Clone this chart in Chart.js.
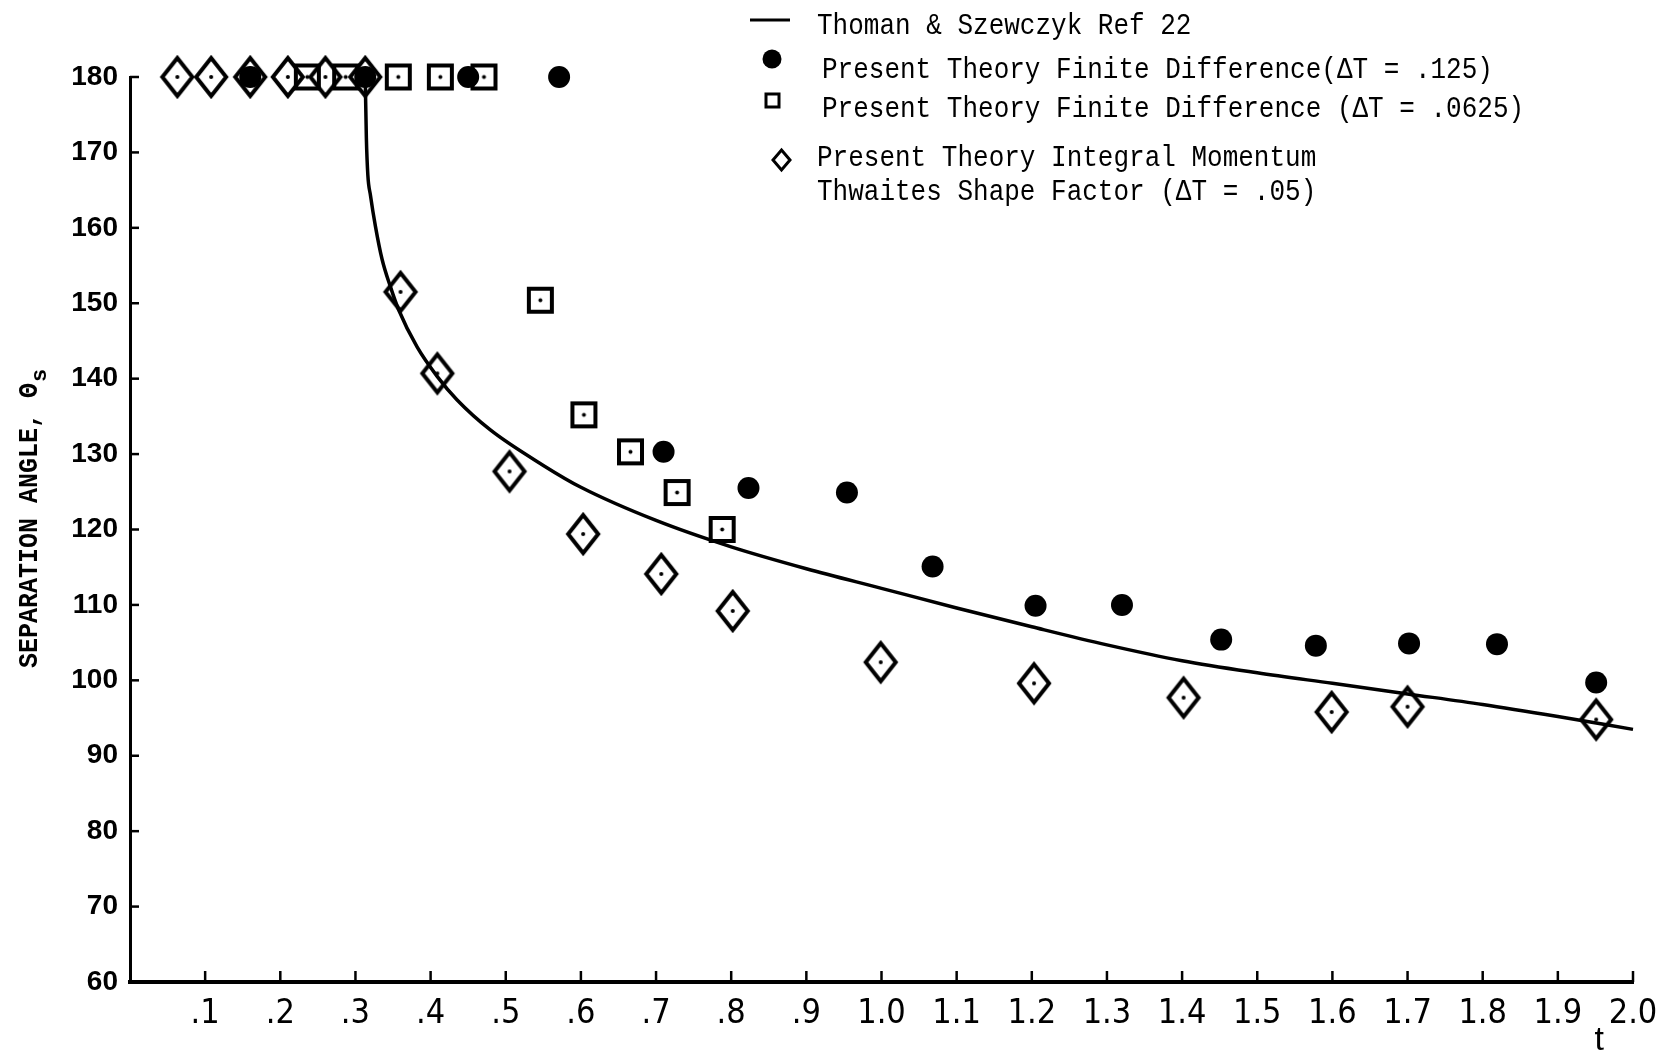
<!DOCTYPE html>
<html>
<head>
<meta charset="utf-8">
<script src="https://cdn.jsdelivr.net/npm/chart.js@4.4.1/dist/chart.umd.min.js"></script>
<style>
  html, body { margin: 0; padding: 0; background: #fff; }
</style>
</head>
<body>
<canvas id="chart" width="1664" height="1055"></canvas>
<script>
// Thoman & Szewczyk Ref 22 (solid curve)
const refT     = [0.313, 0.3145, 0.3165, 0.320, 0.3266, 0.3355, 0.3465, 0.3576, 0.382, 0.4087, 0.435, 0.4795, 0.55, 0.6, 0.7, 0.8, 0.9, 1.0, 1.1, 1.2, 1.3, 1.4, 1.5, 1.6, 1.7, 1.8, 1.9, 2.0];
const refTheta = [180, 172, 167, 164.3, 160.2, 155.8, 152.2, 149.1, 144.2, 140.3, 137.2, 133.2, 128.5, 125.6, 121.2, 117.7, 114.8, 112.2, 109.6, 107.1, 104.7, 102.6, 101.0, 99.6, 98.2, 96.8, 95.2, 93.5];

// finite difference, dT = .125 (filled circles)
const fd125T     = [0.160, 0.313, 0.450, 0.571, 0.71, 0.823, 0.954, 1.068, 1.205, 1.32, 1.452, 1.578, 1.702, 1.819, 1.951];
const fd125Theta = [180, 180, 180, 180, 130.3, 125.5, 124.9, 115.1, 109.9, 110.0, 105.4, 104.6, 104.9, 104.8, 99.7];

// finite difference, dT = .0625 (squares)
const fd0625T     = [0.236, 0.287, 0.357, 0.413, 0.471, 0.546, 0.604, 0.666, 0.728, 0.788];
const fd0625Theta = [180, 180, 180, 180, 180, 150.4, 135.2, 130.3, 124.9, 120.0];

// integral momentum, Thwaites shape factor, dT = .05 (diamonds)
const imT     = [0.063, 0.108, 0.160, 0.210, 0.260, 0.313, 0.36, 0.409, 0.505, 0.603, 0.707, 0.802, 0.999, 1.203, 1.402, 1.599, 1.70, 1.951];
const imTheta = [180, 180, 180, 180, 180, 180, 151.5, 140.7, 127.7, 119.4, 114.1, 109.2, 102.4, 99.6, 97.7, 95.8, 96.5, 94.8];

const xTickLabels = ['', '.1', '.2', '.3', '.4', '.5', '.6', '.7', '.8', '.9', '1.0',
                     '1.1', '1.2', '1.3', '1.4', '1.5', '1.6', '1.7', '1.8', '1.9', '2.0'];
const yTickValues = [60, 70, 80, 90, 100, 110, 120, 130, 140, 150, 160, 170, 180];

const legendLabels = [
  'Thoman & Szewczyk Ref 22',
  'Present Theory Finite Difference(\u0394T = .125)',
  'Present Theory Finite Difference (\u0394T = .0625)',
  'Present Theory Integral Momentum',
  'Thwaites Shape Factor (\u0394T = .05)'
];

const pts = (xs, ys) => xs.map((x, i) => ({ x: x, y: ys[i] }));

// marker images
function diamondMarker(w, h, lw, dot) {
  const c = document.createElement('canvas');
  c.width = w + lw * 2; c.height = h + lw * 2;
  const g = c.getContext('2d');
  const cx = c.width / 2, cy = c.height / 2;
  g.strokeStyle = '#000'; g.lineWidth = lw; g.lineJoin = 'miter';
  g.beginPath();
  g.moveTo(cx, cy - h / 2); g.lineTo(cx + w / 2, cy); g.lineTo(cx, cy + h / 2); g.lineTo(cx - w / 2, cy);
  g.closePath(); g.stroke();
  if (dot) { g.fillStyle = '#000'; g.beginPath(); g.arc(cx, cy, 2, 0, Math.PI * 2); g.fill(); }
  return c;
}
function squareMarker(s, lw, dot) {
  const c = document.createElement('canvas');
  c.width = s + lw * 2; c.height = s + lw * 2;
  const g = c.getContext('2d');
  g.strokeStyle = '#000'; g.lineWidth = lw;
  g.strokeRect(lw, lw, s, s);
  if (dot) { g.fillStyle = '#000'; g.beginPath(); g.arc(c.width / 2, c.height / 2, 2, 0, Math.PI * 2); g.fill(); }
  return c;
}

const diamondImg = diamondMarker(30, 38, 4, true);
const squareImg = squareMarker(23, 4, true);

// draws text stretched vertically
function tallText(ctx, str, x, y, sy) {
  ctx.save();
  ctx.translate(x, y);
  ctx.scale(1, sy);
  ctx.fillText(str, 0, 0);
  ctx.restore();
}

const decor = {
  id: 'decor',
  afterDraw(chart) {
    const ctx = chart.ctx;
    const xs = chart.scales.x, ys = chart.scales.y;
    const area = chart.chartArea;
    ctx.save();
    ctx.strokeStyle = '#000';
    ctx.lineWidth = 2.5;
    // inward tick marks
    ys.ticks.forEach(t => {
      if (t.value <= ys.min) return;
      const y = ys.getPixelForValue(t.value);
      ctx.beginPath(); ctx.moveTo(area.left, y); ctx.lineTo(area.left + 9, y); ctx.stroke();
    });
    xs.ticks.forEach(t => {
      if (t.value <= xs.min) return;
      const x = xs.getPixelForValue(t.value);
      ctx.beginPath(); ctx.moveTo(x, area.bottom); ctx.lineTo(x, area.bottom - 11); ctx.stroke();
    });

    // y axis title, rotated
    ctx.fillStyle = '#000';
    ctx.font = 'bold 25px "Liberation Mono"';
    ctx.textBaseline = 'alphabetic';
    ctx.textAlign = 'left';
    ctx.save();
    ctx.translate(37, 668);
    ctx.rotate(-Math.PI / 2);
    const main = 'SEPARATION ANGLE, \u0398';
    tallText(ctx, main, 0, 0, 1.1);
    const w = ctx.measureText(main).width;
    ctx.font = 'bold 22px "Liberation Mono"';
    ctx.fillText('s', w + 1, 9);
    ctx.restore();

    // t label
    ctx.font = '34px "Liberation Sans", sans-serif';
    ctx.textAlign = 'center';
    ctx.fillText('t', xs.getPixelForValue(1.955), 1050);

    // legend
    ctx.font = '26px "Liberation Mono"';
    ctx.textAlign = 'left';
    ctx.lineWidth = 3;
    ctx.beginPath(); ctx.moveTo(750, 20); ctx.lineTo(790, 20); ctx.stroke();
    tallText(ctx, legendLabels[0], 817, 34, 1.15);
    ctx.beginPath(); ctx.arc(772, 59, 9.5, 0, Math.PI * 2); ctx.fill();
    tallText(ctx, legendLabels[1], 822, 78, 1.15);
    ctx.strokeRect(766, 94, 13, 13);
    tallText(ctx, legendLabels[2], 822, 117, 1.15);
    ctx.drawImage(diamondMarker(17, 20, 3, false), 770, 147);
    tallText(ctx, legendLabels[3], 817, 166, 1.15);
    tallText(ctx, legendLabels[4], 817, 200, 1.15);
    ctx.restore();
  }
};

new Chart(document.getElementById('chart'), {
  type: 'scatter',
  data: {
    datasets: [
      {
        label: legendLabels[1],
        data: pts(fd125T, fd125Theta),
        pointStyle: 'circle',
        pointRadius: 11,
        pointHoverRadius: 11,
        backgroundColor: '#000',
        borderColor: '#000',
        borderWidth: 0,
        clip: false
      },
      {
        label: legendLabels[2],
        data: pts(fd0625T, fd0625Theta),
        pointStyle: squareImg,
        clip: false
      },
      {
        label: legendLabels[3],
        data: pts(imT, imTheta),
        pointStyle: diamondImg,
        clip: false
      },
      {
        label: legendLabels[0],
        data: pts(refT, refTheta),
        showLine: true,
        borderColor: '#000',
        borderWidth: 3.5,
        pointRadius: 0,
        cubicInterpolationMode: 'monotone',
        clip: false
      }
    ]
  },
  options: {
    responsive: false,
    animation: false,
    layout: { padding: { top: 77, right: 31, left: 0, bottom: 0 } },
    plugins: { legend: { display: false }, tooltip: { enabled: false } },
    scales: {
      x: {
        type: 'linear',
        min: 0,
        max: 2.0,
        afterFit: s => { s.height = 73; s.paddingLeft = 0; s.paddingRight = 0; },
        afterBuildTicks: s => { s.ticks = xTickLabels.map((_, i) => ({ value: i / 10 })); },
        grid: { display: false, drawTicks: false },
        border: { display: true, color: '#000', width: 4 },
        ticks: {
          color: '#000',
          padding: 12,
          maxRotation: 0,
          autoSkip: false,
          font: { family: '"Liberation Sans Narrow", "DejaVu Sans Condensed", "Liberation Sans", sans-serif', size: 34 },
          callback: v => xTickLabels[Math.round(v * 10)]
        }
      },
      y: {
        type: 'linear',
        min: 60,
        max: 180,
        afterFit: s => { s.width = 130; s.paddingTop = 0; s.paddingBottom = 0; },
        afterBuildTicks: s => { s.ticks = yTickValues.map(v => ({ value: v })); },
        grid: { display: false, drawTicks: false },
        border: { display: true, color: '#000', width: 3 },
        ticks: {
          color: '#000',
          padding: 12,
          autoSkip: false,
          font: { family: '"Liberation Sans", Arial, sans-serif', size: 28, weight: 'bold' }
        }
      }
    }
  },
  plugins: [decor]
});
</script>
</body>
</html>
